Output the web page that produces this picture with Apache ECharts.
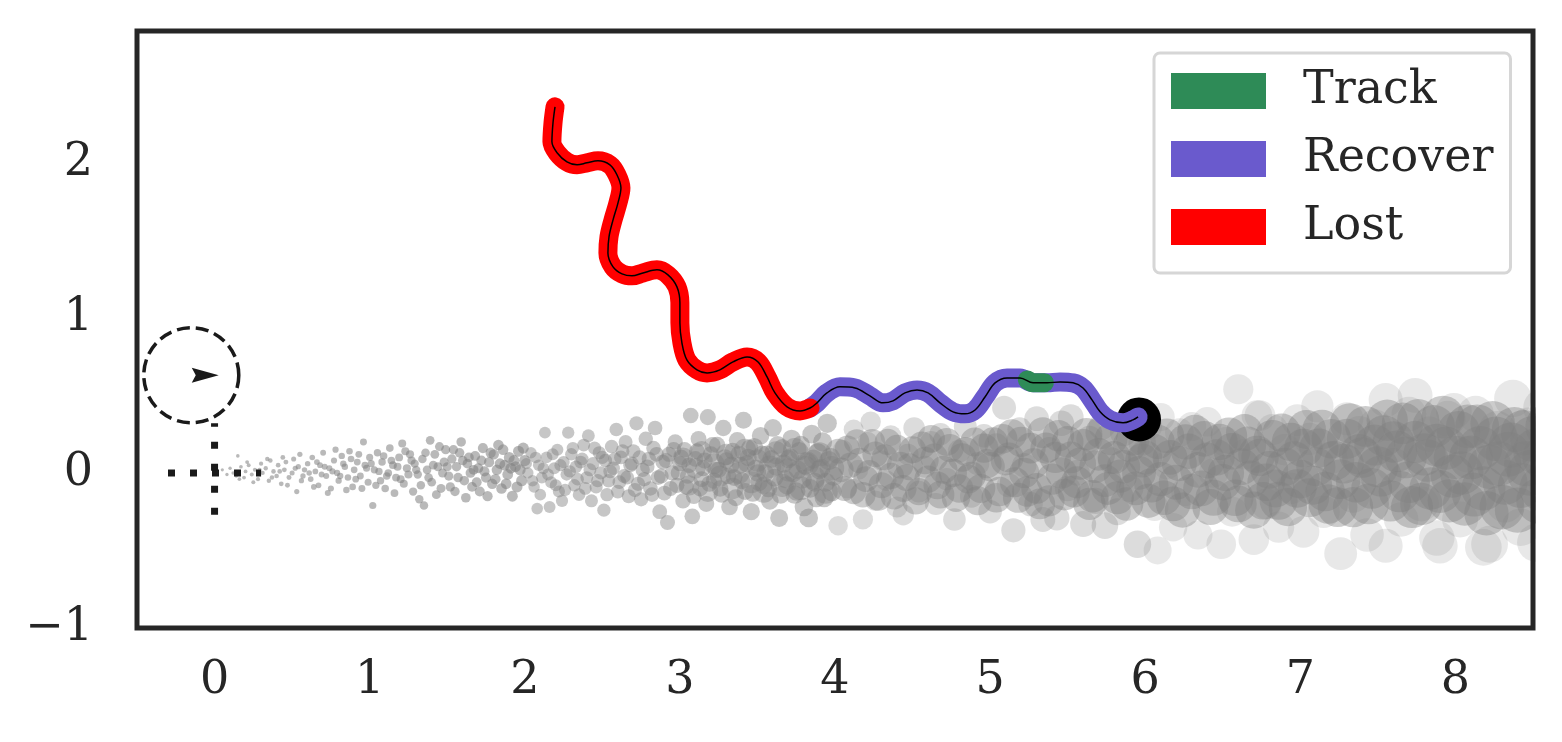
<!DOCTYPE html>
<html>
<head>
<meta charset="utf-8">
<script src="https://cdn.jsdelivr.net/npm/echarts@6/dist/echarts.min.js"></script>
<style>
  html, body { margin: 0; padding: 0; background: #fff; }
  #chart { width: 1562px; height: 742px; }
</style>
</head>
<body>
<div id="chart"></div>
<script>
// tick labels
const xTicks = [0, 1, 2, 3, 4, 5, 6, 7, 8]
const yTicks = [-1, 0, 1, 2]

// trajectory, split by tracking state
const lostPath = [
  [2.195, 2.361], [2.182, 2.258], [2.175, 2.135], [2.208, 2.065], [2.272, 2.006], [2.337, 1.987],
  [2.401, 2.000], [2.472, 2.013], [2.549, 1.987], [2.594, 1.923], [2.620, 1.839], [2.601, 1.742],
  [2.569, 1.632], [2.543, 1.523], [2.536, 1.419], [2.569, 1.329], [2.627, 1.284], [2.691, 1.271],
  [2.762, 1.290], [2.852, 1.310], [2.923, 1.277], [2.981, 1.200], [3.000, 1.097], [3.000, 0.968],
  [3.013, 0.839], [3.045, 0.729], [3.110, 0.665], [3.175, 0.645], [3.258, 0.665], [3.342, 0.716],
  [3.433, 0.748], [3.504, 0.716], [3.562, 0.619], [3.613, 0.516], [3.691, 0.426], [3.775, 0.400],
  [3.839, 0.419]
]
const recoverPath = [
  [3.839, 0.419], [3.884, 0.452], [3.948, 0.516], [4.032, 0.555], [4.129, 0.548], [4.225, 0.497],
  [4.309, 0.452], [4.374, 0.465], [4.451, 0.516], [4.529, 0.535], [4.600, 0.516], [4.677, 0.452],
  [4.761, 0.394], [4.838, 0.381], [4.903, 0.406], [4.967, 0.490], [5.032, 0.581], [5.109, 0.613],
  [5.193, 0.613], [5.277, 0.581], [5.367, 0.581], [5.451, 0.587], [5.535, 0.581], [5.599, 0.548],
  [5.657, 0.471], [5.709, 0.394], [5.773, 0.342], [5.857, 0.323], [5.921, 0.342], [5.954, 0.361]
]
const trackPath = [[5.24, 0.600], [5.277, 0.581], [5.35, 0.581]]
const endPoint = [[5.96, 0.345]]

// robot marker at the origin
const robotCircle = [[-0.15, 0.63]]
const robotArrow = [[-0.06, 0.63]]
const crossH = [[-0.3, 0], [0.3, 0]]
const crossV = [[0, -0.27], [0, 0.32]]

// particle cloud (x, y)
const cloudNear = [
  [0.05, 0.02], [0.08, -0.01], [0.1, 0.03], [0.12, 0.0], [0.14, -0.02], [0.15, 0.11], [0.17, 0.04],
  [0.19, -0.03], [0.2, 0.01], [0.22, 0.05], [0.24, -0.01], [0.26, 0.02], [0.28, -0.04], [0.3, 0.06],
  [0.31, 0.0], [0.33, 0.03], [0.35, -0.05], [0.36, 0.08], [0.38, 0.01], [0.4, -0.02], [0.41, 0.05],
  [0.43, -0.07], [0.45, 0.02], [0.46, 0.07], [0.48, -0.03], [0.5, 0.0], [0.51, 0.09], [0.53, -0.12],
  [0.54, 0.04], [0.56, -0.05], [0.58, 0.02], [0.6, 0.06], [0.62, -0.04], [0.63, 0.1], [0.65, 0.01],
  [0.67, -0.08], [0.68, 0.05], [0.7, 0.13], [0.72, -0.02], [0.74, 0.03], [0.75, -0.1], [0.77, 0.08],
  [0.79, 0.0], [0.8, -0.05], [0.82, 0.11], [0.84, 0.04], [0.86, -0.03], [0.87, 0.14], [0.89, -0.09],
  [0.9, 0.02], [0.92, 0.07], [0.94, -0.02], [0.96, 0.2], [0.97, 0.05], [0.99, -0.06], [1.0, 0.1],
  [1.02, -0.21], [1.03, 0.02], [1.05, 0.13], [1.07, -0.05], [1.08, 0.07], [1.1, -0.1], [1.12, 0.0],
  [1.13, 0.16], [1.15, 0.05], [1.17, -0.03], [1.19, 0.1], [1.21, 0.19], [1.22, -0.07], [1.24, 0.03],
  [1.26, 0.12], [1.28, -0.12], [1.29, 0.06], [1.31, -0.01], [1.32, -0.17], [1.34, 0.09], [1.35, -0.21],
  [1.37, 0.02], [1.39, 0.21], [1.4, -0.06], [1.42, 0.12], [1.44, 0.04], [1.46, -0.1], [1.48, 0.07],
  [1.49, 0.15], [1.51, -0.02], [1.53, 0.09], [1.55, -0.12], [1.56, 0.04], [1.58, 0.13], [1.59, 0.2],
  [1.61, -0.05], [1.63, 0.06], [1.65, 0.0], [1.66, -0.09], [1.68, 0.11], [1.7, 0.03], [1.71, -0.12],
  [1.73, 0.16], [1.75, -0.03], [1.77, 0.07], [1.79, -0.07], [1.8, 0.12], [1.82, 0.02], [1.83, 0.18],
  [1.85, -0.1], [1.87, 0.05], [1.89, -0.01], [1.9, 0.1], [1.92, -0.15], [1.94, 0.04], [1.96, 0.14],
  [1.98, -0.05], [2.0, 0.08]
]
const cloudNearExtra = [
  [0.16, -0.04], [0.21, 0.07], [0.25, -0.06], [0.29, 0.02], [0.34, 0.09], [0.37, -0.03], [0.42, 0.01],
  [0.44, 0.1], [0.47, -0.08], [0.52, 0.03], [0.55, 0.12], [0.57, -0.02], [0.61, 0.0], [0.64, -0.09],
  [0.66, 0.07], [0.69, -0.01], [0.71, 0.04], [0.73, -0.13], [0.76, 0.01], [0.78, 0.15], [0.81, -0.02],
  [0.83, 0.06], [0.85, -0.11], [0.88, 0.09], [0.91, -0.04], [0.93, 0.12], [0.95, -0.1], [0.98, 0.03],
  [1.01, 0.06], [1.04, -0.08], [1.06, 0.01], [1.09, 0.11], [1.11, -0.02], [1.14, 0.08], [1.16, -0.13],
  [1.18, 0.04], [1.2, -0.04], [1.23, 0.14], [1.25, -0.01], [1.27, 0.08], [1.3, 0.02], [1.33, -0.08],
  [1.36, 0.13], [1.38, -0.03], [1.41, 0.05], [1.43, -0.14], [1.45, 0.17], [1.47, 0.0], [1.5, 0.04],
  [1.52, -0.09], [1.54, 0.15], [1.57, -0.03], [1.6, 0.08], [1.62, -0.16], [1.64, 0.1], [1.67, 0.02],
  [1.69, -0.06], [1.72, 0.08], [1.74, 0.01], [1.76, -0.15], [1.78, 0.13], [1.81, -0.04], [1.84, 0.06],
  [1.86, 0.15], [1.88, -0.07], [1.91, 0.03], [1.93, 0.08], [1.95, -0.09], [1.97, 0.02], [1.99, 0.16]
]
const cloudMid = [
  [2.02, 0.0], [2.04, 0.13], [2.06, -0.09], [2.08, -0.23], [2.09, 0.05], [2.11, -0.03], [2.13, 0.26],
  [2.14, 0.1], [2.16, -0.22], [2.17, -0.06], [2.19, 0.03], [2.21, 0.15], [2.22, -0.12], [2.24, -0.18],
  [2.25, 0.07], [2.27, -0.01], [2.28, 0.26], [2.3, 0.12], [2.32, -0.08], [2.33, 0.04], [2.35, -0.14],
  [2.37, 0.09], [2.38, 0.18], [2.4, -0.03], [2.41, 0.24], [2.43, -0.18], [2.44, 0.06], [2.46, -0.09],
  [2.48, 0.13], [2.49, 0.0], [2.51, -0.24], [2.52, 0.08], [2.54, -0.05], [2.56, 0.17], [2.57, 0.03],
  [2.59, 0.28], [2.6, -0.12], [2.62, 0.1], [2.64, -0.02], [2.65, 0.2], [2.67, -0.15], [2.68, 0.05],
  [2.7, 0.14], [2.72, 0.32], [2.73, -0.07], [2.75, -0.17], [2.76, 0.02], [2.78, 0.22], [2.8, 0.09],
  [2.81, -0.1], [2.83, 0.16], [2.84, 0.29], [2.86, -0.03], [2.87, -0.25], [2.89, 0.07], [2.9, -0.13],
  [2.92, -0.32], [2.93, 0.12], [2.95, 0.0], [2.97, 0.2], [2.98, -0.08], [3.0, 0.06], [3.02, -0.18],
  [3.03, 0.15], [3.05, -0.02], [3.07, 0.37], [3.08, -0.28], [3.1, 0.09], [3.12, 0.22], [3.13, -0.1],
  [3.15, 0.03], [3.17, -0.2], [3.18, 0.36], [3.2, 0.12], [3.22, -0.05], [3.24, 0.18], [3.25, 0.02],
  [3.27, -0.14], [3.28, 0.29], [3.3, 0.08], [3.32, -0.22], [3.34, 0.14], [3.35, -0.03], [3.37, 0.21],
  [3.39, 0.05], [3.41, 0.34], [3.42, -0.12], [3.44, 0.1], [3.46, -0.25], [3.48, 0.17], [3.5, 0.0],
  [3.52, 0.24], [3.54, -0.08], [3.56, 0.12], [3.58, -0.18], [3.6, 0.29], [3.62, 0.04], [3.64, -0.29],
  [3.66, 0.16], [3.68, -0.04], [3.7, 0.09], [3.72, 0.22], [3.74, -0.14], [3.76, 0.02], [3.78, 0.18],
  [3.8, -0.22], [3.82, 0.07], [3.83, -0.29], [3.85, 0.25], [3.87, -0.06], [3.89, 0.13], [3.91, 0.03],
  [3.93, -0.16], [3.95, 0.32], [3.97, 0.1], [3.99, -0.02]
]
const cloudMidExtra = [
  [2.01, 0.06], [2.05, -0.05], [2.07, 0.1], [2.1, -0.14], [2.12, 0.03], [2.15, -0.01], [2.18, 0.12],
  [2.2, -0.08], [2.23, 0.05], [2.26, -0.11], [2.29, 0.01], [2.31, 0.16], [2.34, -0.04], [2.36, 0.07],
  [2.39, -0.1], [2.42, 0.02], [2.45, 0.16], [2.47, -0.05], [2.5, 0.1], [2.53, -0.14], [2.55, 0.01],
  [2.58, 0.09], [2.61, -0.06], [2.63, 0.14], [2.66, -0.03], [2.69, 0.06], [2.71, -0.11], [2.74, 0.1],
  [2.77, -0.04], [2.79, 0.04], [2.82, -0.14], [2.85, 0.12], [2.88, -0.02], [2.91, 0.08], [2.94, -0.1],
  [2.96, 0.15], [2.99, 0.0], [3.01, 0.1], [3.04, -0.09], [3.06, 0.05], [3.09, -0.15], [3.11, 0.14],
  [3.14, -0.04], [3.16, 0.08], [3.19, -0.07], [3.21, 0.18], [3.23, 0.02], [3.26, -0.1], [3.29, 0.1],
  [3.31, -0.02], [3.33, 0.05], [3.36, -0.16], [3.38, 0.12], [3.4, -0.05], [3.43, 0.06], [3.45, 0.16],
  [3.47, -0.13], [3.49, 0.03], [3.51, -0.06], [3.53, 0.12], [3.55, 0.0], [3.57, -0.1], [3.59, 0.09],
  [3.61, -0.03], [3.63, 0.18], [3.65, -0.14], [3.67, 0.06], [3.69, -0.08], [3.71, 0.1], [3.73, 0.0],
  [3.75, -0.12], [3.77, 0.14], [3.79, -0.04], [3.81, 0.05], [3.84, -0.1], [3.86, 0.09], [3.88, -0.16],
  [3.9, 0.02], [3.92, 0.2], [3.94, -0.06], [3.96, 0.08], [3.98, -0.12]
]
const cloudFarA = [
  [4.02, -0.34], [4.05, 0.15], [4.08, -0.1], [4.12, 0.28], [4.15, 0.02], [4.18, -0.3], [4.21, 0.2],
  [4.23, 0.33], [4.26, -0.18], [4.3, 0.08], [4.33, -0.05], [4.36, 0.24], [4.4, -0.22], [4.44, -0.27],
  [4.47, 0.12], [4.51, 0.29], [4.54, -0.12], [4.58, 0.04], [4.62, 0.2], [4.65, -0.2], [4.68, 0.25],
  [4.72, -0.04], [4.77, -0.3], [4.8, 0.14], [4.84, 0.3], [4.88, -0.15], [4.92, 0.06], [4.96, 0.24],
  [5.0, -0.25], [5.04, 0.18], [5.09, 0.42], [5.12, -0.08], [5.15, -0.37], [5.19, 0.28], [5.22, 0.05],
  [5.26, -0.2], [5.3, 0.35], [5.34, -0.3], [5.38, 0.15], [5.43, -0.29], [5.46, 0.32], [5.5, -0.1],
  [5.52, 0.36], [5.56, 0.0], [5.6, -0.33], [5.64, 0.22], [5.68, -0.18], [5.72, 0.3], [5.74, -0.34],
  [5.78, 0.08], [5.82, -0.25], [5.86, 0.26], [5.9, -0.1], [5.95, -0.46], [5.98, 0.2]
]
const cloudFarB = [
  [6.02, 0.3], [6.06, -0.22], [6.08, -0.5], [6.1, 0.36], [6.14, 0.05], [6.18, -0.35], [6.22, 0.26],
  [6.26, -0.12], [6.3, 0.3], [6.34, -0.4], [6.4, 0.33], [6.44, 0.0], [6.49, -0.46], [6.52, 0.2],
  [6.56, -0.25], [6.6, 0.54], [6.64, 0.12], [6.7, -0.43], [6.72, 0.37], [6.74, 0.37], [6.78, -0.2],
  [6.82, 0.28], [6.86, -0.35], [6.9, 0.15], [6.94, -0.1], [6.98, 0.34], [7.02, -0.38], [7.06, 0.22],
  [7.11, 0.43], [7.15, -0.25], [7.2, 0.1], [7.26, -0.52], [7.3, 0.35], [7.34, -0.15], [7.38, 0.26],
  [7.43, -0.4], [7.48, 0.3], [7.55, 0.47], [7.55, -0.47], [7.6, 0.05], [7.65, -0.3], [7.7, 0.38],
  [7.74, 0.5], [7.78, -0.2], [7.83, 0.25], [7.88, -0.42], [7.9, -0.47], [7.95, 0.35], [7.99, 0.4],
  [8.03, -0.3], [8.08, 0.12], [8.13, 0.38], [8.18, -0.48], [8.22, -0.46], [8.27, 0.28], [8.32, -0.2],
  [8.37, 0.48], [8.42, -0.35], [8.47, 0.3], [8.52, -0.45], [8.56, 0.42], [8.6, -0.1]
]
const cloudCore = [
  [3.02, 0.1], [3.06, -0.08], [3.1, 0.03], [3.14, 0.14], [3.18, -0.12], [3.22, 0.06], [3.26, -0.02],
  [3.3, 0.12], [3.34, -0.1], [3.38, 0.0], [3.42, 0.15], [3.46, -0.06], [3.5, 0.08], [3.54, -0.12],
  [3.58, 0.04], [3.62, 0.13], [3.66, -0.08], [3.7, 0.02], [3.74, 0.15], [3.78, -0.1], [3.82, 0.06],
  [3.86, -0.03], [3.9, 0.12], [3.94, -0.12], [3.98, 0.03], [4.02, 0.14], [4.06, -0.1], [4.1, 0.05],
  [4.14, 0.2], [4.18, -0.14], [4.22, 0.0], [4.26, 0.12], [4.3, -0.08], [4.34, 0.2], [4.38, -0.15],
  [4.42, 0.05], [4.46, -0.03], [4.5, 0.15], [4.54, -0.12], [4.58, 0.08], [4.62, 0.22], [4.66, -0.08],
  [4.7, 0.02], [4.74, 0.16], [4.78, -0.16], [4.82, 0.1], [4.86, -0.04], [4.9, 0.2], [4.94, -0.1],
  [4.98, 0.06], [5.02, 0.2], [5.06, -0.12], [5.1, 0.08], [5.14, 0.25], [5.18, -0.16], [5.22, 0.0],
  [5.26, 0.16], [5.3, -0.1], [5.34, 0.26], [5.38, -0.18], [5.42, 0.1], [5.46, 0.0], [5.5, 0.2],
  [5.54, -0.12], [5.58, 0.06], [5.62, 0.25], [5.66, -0.15], [5.7, 0.12], [5.74, -0.05], [5.78, 0.22],
  [5.82, -0.16], [5.86, 0.04], [5.9, 0.18], [5.94, -0.1], [5.98, 0.08], [6.02, -0.18], [6.06, 0.14],
  [6.1, -0.04], [6.14, 0.24], [6.18, -0.2], [6.22, 0.06], [6.26, 0.2], [6.3, -0.12], [6.34, 0.02],
  [6.38, 0.22], [6.42, -0.22], [6.46, 0.1], [6.5, -0.06], [6.54, 0.24], [6.58, -0.16], [6.62, 0.04],
  [6.66, 0.18], [6.7, -0.24], [6.74, 0.1], [6.78, -0.06], [6.82, 0.22], [6.86, -0.18], [6.9, 0.04],
  [6.94, 0.2], [6.98, -0.1], [7.02, 0.16], [7.06, -0.16], [7.1, 0.04], [7.14, 0.28], [7.18, -0.2],
  [7.22, 0.08], [7.26, -0.04], [7.3, 0.22], [7.34, -0.22], [7.38, 0.12], [7.42, 0.3], [7.46, -0.1],
  [7.5, 0.04], [7.54, 0.24], [7.58, -0.18], [7.62, 0.14], [7.66, 0.32], [7.7, -0.06], [7.74, 0.2],
  [7.78, -0.2], [7.82, 0.08], [7.86, 0.3], [7.9, -0.12], [7.94, 0.16], [7.98, -0.02], [8.02, 0.26],
  [8.06, -0.2], [8.1, 0.1], [8.14, 0.3], [8.18, -0.1], [8.22, 0.04], [8.26, 0.22], [8.3, -0.22],
  [8.34, 0.12], [8.38, 0.28], [8.42, -0.08], [8.46, 0.06], [8.5, 0.22], [8.54, -0.18], [8.58, 0.1]
]
const cloudCoreExtra = [
  [4.04, 0.02], [4.08, 0.16], [4.12, -0.12], [4.16, 0.08], [4.2, -0.04], [4.24, 0.2], [4.28, -0.16],
  [4.32, 0.1], [4.36, -0.02], [4.4, 0.16], [4.44, -0.1], [4.48, 0.04], [4.52, -0.18], [4.56, 0.18],
  [4.6, -0.04], [4.64, 0.1], [4.68, -0.14], [4.72, 0.2], [4.76, 0.0], [4.8, -0.1], [4.84, 0.14],
  [4.88, -0.02], [4.92, -0.18], [4.96, 0.16], [5.0, 0.04], [5.04, -0.16], [5.08, 0.22], [5.12, 0.1],
  [5.16, -0.06], [5.2, 0.2], [5.24, -0.12], [5.28, 0.06], [5.32, -0.2], [5.36, 0.16], [5.4, -0.04],
  [5.44, 0.24], [5.48, -0.14], [5.52, 0.1], [5.56, -0.06], [5.6, 0.18], [5.64, -0.2], [5.68, 0.04],
  [5.72, 0.26], [5.76, -0.1], [5.8, 0.1], [5.84, -0.02], [5.88, -0.2], [5.92, 0.22], [5.96, 0.0],
  [6.0, 0.1], [6.04, -0.08], [6.08, 0.2], [6.12, -0.16], [6.16, 0.1], [6.2, -0.06], [6.24, -0.24],
  [6.28, 0.14], [6.32, 0.26], [6.36, -0.1], [6.4, 0.08], [6.44, -0.16], [6.48, 0.2], [6.52, 0.0],
  [6.56, 0.14], [6.6, -0.2], [6.64, 0.26], [6.68, -0.04], [6.72, 0.12], [6.76, -0.18], [6.8, 0.02],
  [6.84, -0.1], [6.88, 0.26], [6.92, -0.22], [6.96, 0.08], [7.0, -0.04], [7.04, 0.28], [7.08, -0.08],
  [7.12, 0.16], [7.16, -0.12], [7.2, 0.22], [7.24, -0.22], [7.28, 0.06], [7.32, 0.32], [7.36, -0.06],
  [7.4, 0.1], [7.44, -0.2], [7.48, 0.18], [7.52, -0.02], [7.56, 0.34], [7.6, 0.2], [7.64, -0.12],
  [7.68, 0.1], [7.72, -0.22], [7.76, 0.34], [7.8, 0.12], [7.84, -0.1], [7.88, 0.18], [7.92, 0.36],
  [7.96, -0.18], [8.0, 0.1], [8.04, 0.0], [8.08, 0.3], [8.12, -0.14], [8.16, 0.16], [8.2, -0.26],
  [8.24, 0.32], [8.28, 0.06], [8.32, -0.06], [8.36, 0.18], [8.4, -0.24], [8.44, 0.26], [8.48, 0.0],
  [8.52, 0.14], [8.56, -0.1], [8.6, 0.3]
]

const fontFamily = '"DejaVu Serif", serif'
const ink = '#262626'
const colors = { Track: '#2e8b57', Recover: '#6a5acd', Lost: '#ff0000' }

const cloud = (data, opacity) => ({
  type: 'scatter',
  data,
  symbol: 'circle',
  clip: false,
  silent: true,
  itemStyle: { color: '#808080', opacity },
  z: 2,
})

const band = (name, data) => ({
  name,
  type: 'line',
  data,
  smooth: 0.35,
  symbol: 'none',
  silent: true,
  color: colors[name],
  lineStyle: { width: 19, color: colors[name], cap: 'round', join: 'round' },
  z: 5,
})

const fmtTick = (v) => (v < 0 ? '\u2212' + Math.abs(v) : String(v))

const chart = echarts.init(document.getElementById('chart'), null, { renderer: 'canvas' })
chart.setOption({
  animation: false,
  backgroundColor: '#fff',
  grid: {
    left: 137, right: 29, top: 31, bottom: 114,
    show: true, borderWidth: 5, borderColor: ink, backgroundColor: 'transparent', z: 10,
  },
  xAxis: {
    type: 'value', min: -0.5, max: 8.5,
    axisLine: { show: false }, axisTick: { show: false }, splitLine: { show: false },
    axisLabel: { customValues: xTicks, margin: 30, fontFamily, fontSize: 46, color: ink, formatter: fmtTick },
  },
  yAxis: {
    type: 'value', min: -1, max: 2.85,
    axisLine: { show: false }, axisTick: { show: false }, splitLine: { show: false },
    axisLabel: { customValues: yTicks, margin: 44, fontFamily, fontSize: 46, color: ink, formatter: fmtTick },
  },
  visualMap: [
    { type: 'continuous', show: false, seriesIndex: [0, 1, 4, 5, 6, 7], dimension: 0, min: 0, max: 9,
      inRange: { symbolSize: [3, 40] } },
    { type: 'continuous', show: false, seriesIndex: [2, 3], dimension: 0, min: 0, max: 9,
      inRange: { symbolSize: [6, 48] } },
  ],
  legend: {
    orient: 'vertical', left: 1154, top: 53, padding: [15, 17, 23, 17],
    itemWidth: 95, itemHeight: 36, itemGap: 22, icon: 'rect', selectedMode: false,
    backgroundColor: '#fff', borderColor: '#d6d6d6', borderWidth: 3, borderRadius: 6,
    itemStyle: { borderWidth: 0 },
    textStyle: { fontFamily, fontSize: 46, color: ink, padding: [3, 0, 0, 32] },
    data: ['Track', 'Recover', 'Lost'],
  },
  graphic: [
    { type: 'rect', shape: { x: 1536, y: 0, width: 30, height: 742 }, style: { fill: '#fff' }, z: 9, silent: true },
  ],
  series: [
    cloud(cloudFarB, 0.18),
    cloud(cloudFarA, 0.28),
    cloud(cloudCore, 0.4),
    cloud(cloudCoreExtra, 0.4),
    cloud(cloudMid, 0.45),
    cloud(cloudMidExtra, 0.45),
    cloud(cloudNear, 0.55),
    cloud(cloudNearExtra, 0.55),
    {
      type: 'line', data: crossH, symbol: 'none', silent: true, z: 3,
      lineStyle: { color: '#1a1a1a', width: 7, type: [7, 15], cap: 'butt' },
    },
    {
      type: 'line', data: crossV, symbol: 'none', silent: true, z: 3,
      lineStyle: { color: '#1a1a1a', width: 7, type: [7, 15], cap: 'butt' },
    },
    {
      type: 'scatter', data: robotCircle, symbol: 'circle', symbolSize: 95, silent: true, z: 3,
      itemStyle: { color: 'rgba(0,0,0,0)', opacity: 1, borderColor: '#1a1a1a', borderWidth: 3.5, borderType: [13, 6] },
    },
    {
      type: 'scatter', data: robotArrow, symbol: 'path://M0,0 L27,7.5 L0,15 L4,7.5 Z',
      symbolSize: [27, 15], silent: true, z: 3, itemStyle: { color: '#1a1a1a', opacity: 1 },
    },
    {
      type: 'scatter', data: endPoint, symbol: 'circle', symbolSize: 44, silent: true, z: 4,
      itemStyle: { color: '#000', opacity: 1 },
    },
    band('Recover', recoverPath),
    band('Lost', lostPath),
    band('Track', trackPath),
    {
      name: 'path', type: 'line', data: lostPath.concat(recoverPath.slice(1)),
      smooth: 0.35, symbol: 'none', silent: true, z: 6,
      lineStyle: { width: 1.5, color: '#000' },
    },
  ],
})
</script>
</body>
</html>
